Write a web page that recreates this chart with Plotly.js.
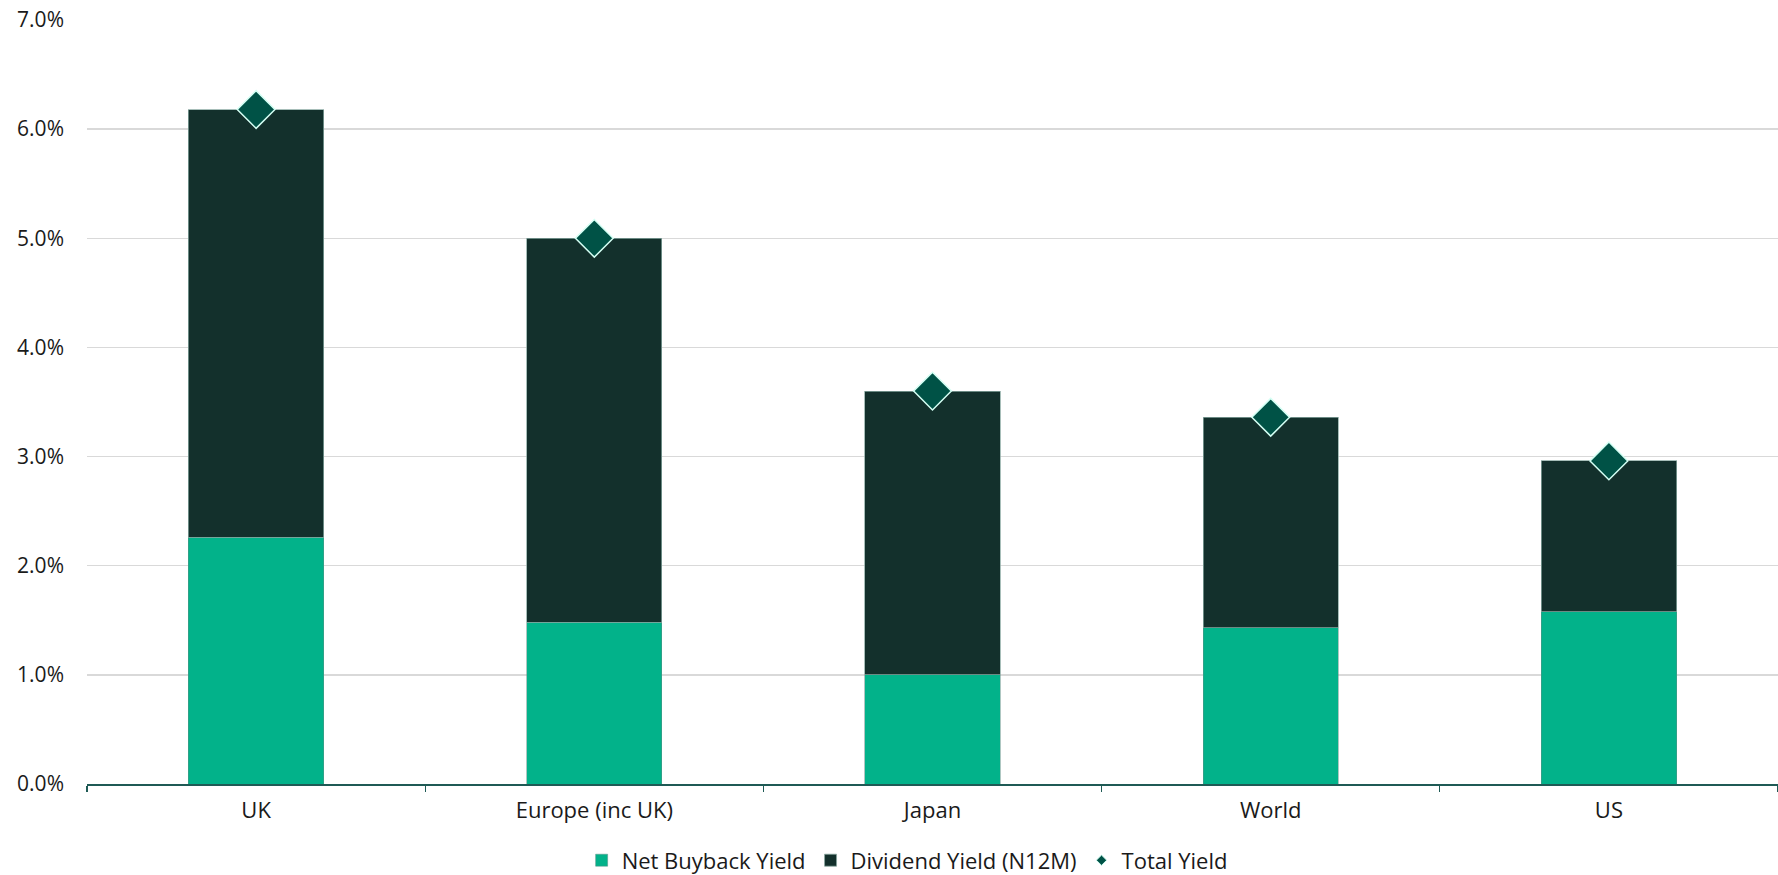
<!DOCTYPE html>
<html>
<head>
<meta charset="utf-8">
<script src="https://cdn.plot.ly/plotly-3.0.1.min.js"></script>
<style>
  html, body { margin: 0; padding: 0; background: #fff; }
  #chart { width: 1778px; height: 875px; }
</style>
</head>
<body>
<div id="chart"></div>
<script>
const categories = ["UK", "Europe (inc UK)", "Japan", "World", "US"];
const netBuybackYield = [2.26, 1.48, 1.00, 1.43, 1.58];
const dividendYield = [3.92, 3.52, 2.60, 1.93, 1.38];
const totalYield = [6.18, 5.00, 3.60, 3.36, 2.96];
const yTicks = [0, 1, 2, 3, 4, 5, 6, 7];

const FONT = "'Open Sans', Lato, sans-serif";

const traces = [
  {
    type: "bar", name: "Net Buyback Yield", x: categories, y: netBuybackYield,
    marker: { color: "#02B28A", line: { color: "#5e8f86", width: 0.5 } },
    hoverinfo: "y+name"
  },
  {
    type: "bar", name: "Dividend Yield (N12M)", x: categories, y: dividendYield,
    marker: { color: "#13302C", line: { color: "#8aa8a2", width: 0.75 } },
    hoverinfo: "y+name"
  },
  {
    type: "scatter", mode: "markers", name: "Total Yield", x: categories, y: totalYield,
    marker: { symbol: "diamond", size: 29, color: "#005246", line: { color: "#d4fff4", width: 1.5 } },
    showlegend: false, hoverinfo: "y+name"
  },
  {
    type: "scatter", mode: "markers", name: "Total Yield", x: [null], y: [null],
    marker: { symbol: "diamond", size: 8, color: "#005246", line: { color: "#d4fff4", width: 1 } },
    showlegend: true, hoverinfo: "skip"
  }
];

const layout = {
  width: 1778, height: 875,
  paper_bgcolor: "#ffffff", plot_bgcolor: "#ffffff",
  margin: { l: 87, r: 0, t: 20, b: 91, autoexpand: false },
  barmode: "stack",
  bargap: 0.6,
  font: { family: FONT, size: 21, color: "#1a1a1a" },
  xaxis: {
    type: "category",
    showgrid: false,
    showline: true, linecolor: "#1f5a55", linewidth: 1.5,
    ticks: "outside", tickson: "boundaries", ticklen: 6, tickcolor: "#1f5a55", tickwidth: 1.2,
    ticklabelstandoff: 6,
    tickfont: { family: FONT, size: 22, color: "#1a1a1a" },
    zeroline: false
  },
  yaxis: {
    range: [0, 7],
    tickvals: yTicks,
    ticktext: yTicks.map(v => v.toFixed(1) + "%"),
    showgrid: true, gridcolor: "#d9d9d9", gridwidth: 1.5,
    zeroline: false, showline: false, ticks: "",
    ticklabelstandoff: 22,
    tickfont: { family: FONT, size: 21, color: "#1a1a1a" }
  },
  showlegend: true,
  legend: {
    orientation: "h", x: 0.485, xanchor: "center", y: -0.1, yanchor: "middle",
    font: { family: FONT, size: 22, color: "#1a1a1a" },
    traceorder: "normal", itemwidth: 30
  }
};

Plotly.newPlot("chart", traces, layout, { displayModeBar: false, staticPlot: true });
</script>
</body>
</html>
